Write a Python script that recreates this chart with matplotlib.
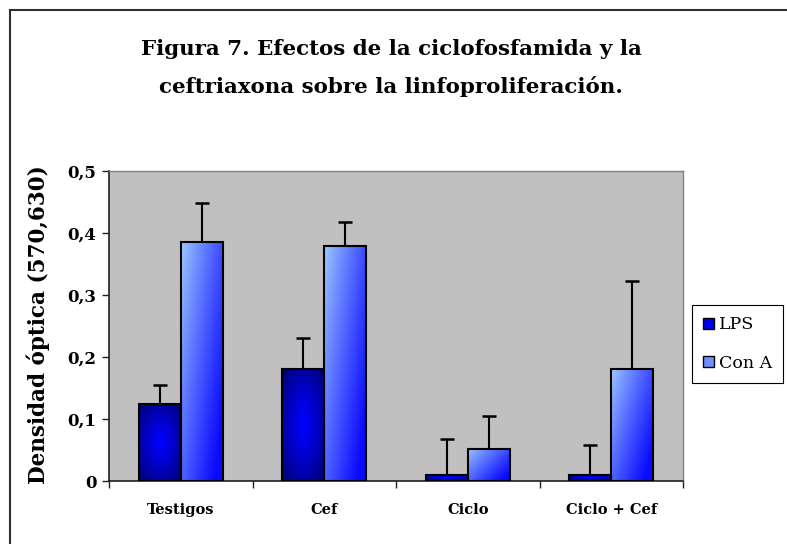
import numpy as np
import matplotlib
matplotlib.use("Agg")
import matplotlib.pyplot as plt
from matplotlib.lines import Line2D
from matplotlib.patches import Patch

categories = ["Testigos", "Cef", "Ciclo", "Ciclo + Cef"]
series_names = ["LPS", "Con A"]
lps = [0.125, 0.181, 0.010, 0.010]
lps_err = [0.030, 0.050, 0.057, 0.048]
cona = [0.385, 0.379, 0.052, 0.181]
cona_err = [0.063, 0.039, 0.053, 0.141]
yticks = [0, 0.1, 0.2, 0.3, 0.4, 0.5]
ytick_labels = ["0", "0,1", "0,2", "0,3", "0,4", "0,5"]
title = "Figura 7. Efectos de la ciclofosfamida y la\nceftriaxona sobre la linfoproliferación."
ylabel = "Densidad óptica (570,630)"

W, H = 787, 544
fig = plt.figure(figsize=(W / 100, H / 100), dpi=100)
fig.patch.set_facecolor("white")

# outer frame (left and top only visible)
fig.add_artist(Line2D([9.5 / W, 9.5 / W], [0, 1 - 10 / H], color="#303030", lw=1.5, transform=fig.transFigure))
fig.add_artist(Line2D([9.5 / W, 1], [1 - 10 / H, 1 - 10 / H], color="#303030", lw=1.5, transform=fig.transFigure))

ax = fig.add_axes([109 / W, (H - 481) / H, (683 - 109) / W, (481 - 171) / H])
ax.set_facecolor("#C0C0C0")

x = np.arange(len(categories))
bw = 0.293

bars_l = ax.bar(x - bw / 2, lps, bw, color="#0000E0", edgecolor="black", linewidth=1.5, zorder=3)
bars_c = ax.bar(x + bw / 2, cona, bw, color="#6F8FFF", edgecolor="black", linewidth=1.5, zorder=3)

# gradient fills
navy = np.array([0, 0, 120]) / 255
bright = np.array([0, 0, 255]) / 255
light = np.array([160, 205, 255]) / 255
deep = np.array([10, 10, 255]) / 255

for b in bars_l:
    x0, y0 = b.get_x(), b.get_y()
    w, h = b.get_width(), b.get_height()
    if h <= 0:
        continue
    ny, nx = 80, 40
    yy, xx = np.mgrid[0:ny, 0:nx]
    dx = (xx + 0.5) / nx * 2 - 1
    dy = (yy + 0.5) / ny * 2 - 1
    t = np.clip(np.sqrt(dx ** 2 + dy ** 2) / 1.3, 0, 1) ** 1.2
    img = bright[None, None, :] * (1 - t[..., None]) + navy[None, None, :] * t[..., None]
    im = ax.imshow(img, extent=(x0, x0 + w, y0, y0 + h), aspect="auto", zorder=3.5, interpolation="bilinear")
    im.set_clip_path(b)

for b in bars_c:
    x0, y0 = b.get_x(), b.get_y()
    w, h = b.get_width(), b.get_height()
    ny, nx = 120, 40
    yy, xx = np.mgrid[0:ny, 0:nx]
    fx = (xx + 0.5) / nx
    fy = (yy + 0.5) / ny  # 0 at top of image
    t = np.clip(0.65 * fx + 0.5 * fy, 0, 1) ** 0.9
    img = light[None, None, :] * (1 - t[..., None]) + deep[None, None, :] * t[..., None]
    im = ax.imshow(img, extent=(x0, x0 + w, y0, y0 + h), aspect="auto", zorder=3.5, interpolation="bilinear", origin="upper")
    im.set_clip_path(b)

# redraw edges above gradients
for b in list(bars_l) + list(bars_c):
    b.set_zorder(4)
    b.set_facecolor("none")

for xs, vals, errs in [(x - bw / 2, lps, lps_err), (x + bw / 2, cona, cona_err)]:
    eb = ax.errorbar(xs, vals, yerr=[np.zeros(len(vals)), errs], fmt="none", ecolor="black",
                     elinewidth=1.5, capsize=4.8, capthick=1.8, zorder=5)
    caps = eb.lines[1]
    caps[0].set_visible(False)

ax.set_xlim(-0.5, len(categories) - 0.5)
ax.set_ylim(0, 0.5)

ax.set_yticks(yticks)
ax.set_yticklabels(ytick_labels, fontfamily="DejaVu Serif", fontweight="bold", fontsize=12)
ax.set_xticks(x)
ax.set_xticklabels(categories, fontfamily="DejaVu Serif", fontweight="bold", fontsize=10.5)
ax.tick_params(axis="x", length=0, pad=16)
ax.set_xticks(np.arange(-0.5, len(categories)), minor=True)
ax.tick_params(axis="x", which="minor", length=5, width=1, color="#202020", direction="out")
ax.tick_params(axis="y", length=5, width=1, color="#202020", direction="out", pad=4)

for s in ["top", "right"]:
    ax.spines[s].set_color("#808080")
    ax.spines[s].set_linewidth(1)
for s in ["left", "bottom"]:
    ax.spines[s].set_color("#202020")
    ax.spines[s].set_linewidth(1.2)

fig.text(391 / W, 1 - 68 / H, title, ha="center", va="center", fontfamily="DejaVu Serif",
         fontweight="bold", fontsize=15.4, linespacing=1.95)
fig.text(38 / W, 1 - 325 / H, ylabel, ha="center", va="center", rotation=90,
         fontfamily="DejaVu Serif", fontweight="bold", fontsize=15.5)

handles = [Patch(facecolor="#0000E8", edgecolor="black", linewidth=1),
           Patch(facecolor="#6F8FFF", edgecolor="black", linewidth=1)]
leg = fig.legend(handles, series_names, loc="center", bbox_to_anchor=(737.5 / W, 1 - 344 / H),
                 frameon=True, fancybox=False, edgecolor="black", framealpha=1,
                 prop={"family": "DejaVu Serif", "size": 12.5}, handlelength=0.6, handleheight=0.6,
                 handletextpad=0.3, labelspacing=1.25, borderpad=0.65, borderaxespad=0)
leg.get_frame().set_linewidth(0.8)

fig.savefig("out.png", dpi=100)
